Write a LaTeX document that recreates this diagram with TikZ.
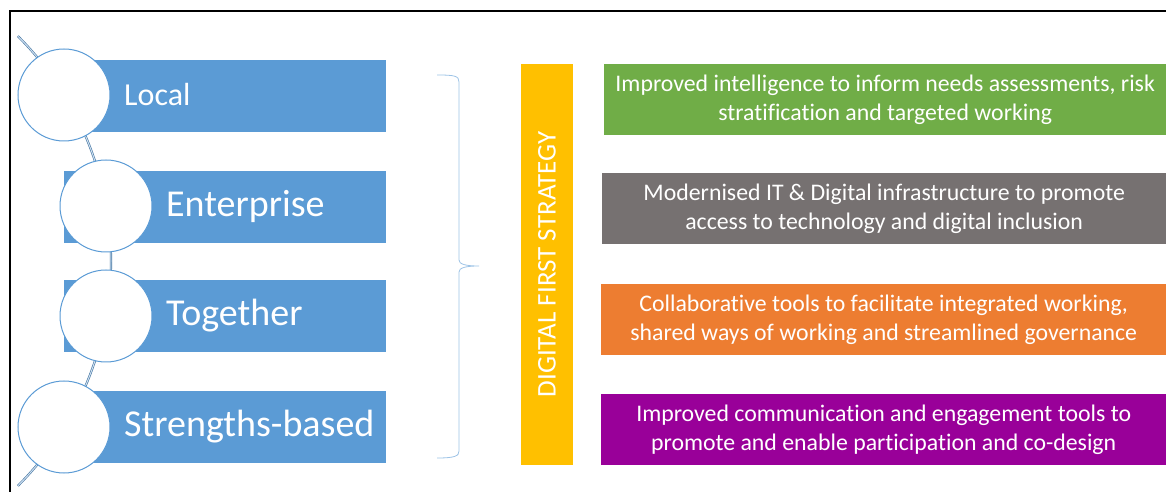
\documentclass[tikz,border=0pt]{standalone}
\usepackage{fontspec}
\setmainfont{Carlito}[Ligatures=NoCommon]

\definecolor{barblue}{HTML}{5B9BD5}
\definecolor{braceblue}{HTML}{9DC3E6}
\definecolor{gold}{HTML}{FFC000}
\definecolor{leaf}{HTML}{70AD47}
\definecolor{slate}{HTML}{767171}
\definecolor{amber}{HTML}{ED7D31}
\definecolor{plum}{HTML}{990099}

\begin{document}
\begin{tikzpicture}[
    x=1pt, y=1pt,
    bar/.style={rectangle, fill=barblue, minimum width=322pt, minimum height=72pt,
                inner sep=0pt},
    hoop/.style={circle, draw=barblue, line width=1pt, fill=white,
                 minimum size=92pt, inner sep=0pt},
    word/.style={anchor=west, text=white, inner sep=0pt,
                 font=\fontsize{38}{44}\selectfont},
    spine/.style={draw=barblue!75!black, double=barblue!30, line width=0.6pt,
                  double distance=1pt},
    bracket/.style={draw=braceblue, line width=0.8pt},
    outcome/.style={rectangle, anchor=west, minimum height=71pt, text=white,
                    align=center, inner sep=0pt, font=\fontsize{23.8}{29}\selectfont}
]
    \useasboundingbox (0,0) rectangle (1166,492);

    % frame
    \draw[line width=2.5pt] (10,0) |- (1166,481);

    % the curved spine behind the circles
    \coordinate (hub) at (-207,231);
    \draw[spine] ([shift={(45:318)}]hub) arc[start angle=45, end angle=-45, radius=318];

    % bars and circles
    \node[bar] (local)     at (225,396) {};
    \node[bar] (enterprise) at (225,285) {};
    \node[bar] (together)  at (225,175.5) {};
    \node[bar] (strengths) at (225,64.5) {};

    \node[hoop] (c1) at (64,397) {};
    \node[hoop] (c2) at (106,286) {};
    \node[hoop] (c3) at (106,176) {};
    \node[hoop] (c4) at (64,65) {};

    \node[word, font=\fontsize{32}{38}\selectfont] at ([xshift=60pt]c1.center) {Local};
    \node[word] at ([xshift=60pt]c2.center) {Enterprise};
    \node[word] at ([xshift=60pt]c3.center) {Together};
    \node[word] at ([xshift=60pt]c4.center) {Strengths-based};

    % brace
    \coordinate (brace top) at (437,417);
    \coordinate (brace tip) at (479,226);
    \coordinate (brace bottom) at (437,34);
    \draw[bracket] (brace top) .. controls (455,417) and (459,416) .. (459,410)
        -- (459,232) .. controls (459,228) and (465,226) .. (brace tip)
        .. controls (465,226) and (459,224) .. (459,220)
        -- (459,41) .. controls (459,36) and (455,34) .. (brace bottom);

    % strategy bar
    \node[rectangle, fill=gold, rotate=90, minimum width=401pt, minimum height=52pt,
          text=white, inner sep=0pt, font=\fontsize{27}{30}\selectfont]
        (strategy) at (547,227.5) {DIGITAL FIRST STRATEGY};

    % outcomes
    \node[outcome, fill=leaf, minimum width=562pt] (intel) at (604,392.5)
        {Improved intelligence to inform needs assessments, risk\\stratification and targeted working};
    \node[outcome, fill=slate, minimum width=564pt] (infra) at (602,283.5)
        {Modernised IT \& Digital infrastructure to promote\\access to technology and digital inclusion};
    \node[outcome, fill=amber, minimum width=565pt] (collab) at (601,172.5)
        {Collaborative tools to facilitate integrated working,\\shared ways of working and streamlined governance};
    \node[outcome, fill=plum, minimum width=565pt] (engage) at (601,62.5)
        {Improved communication and engagement tools to\\promote and enable participation and co-design};
\end{tikzpicture}
\end{document}
